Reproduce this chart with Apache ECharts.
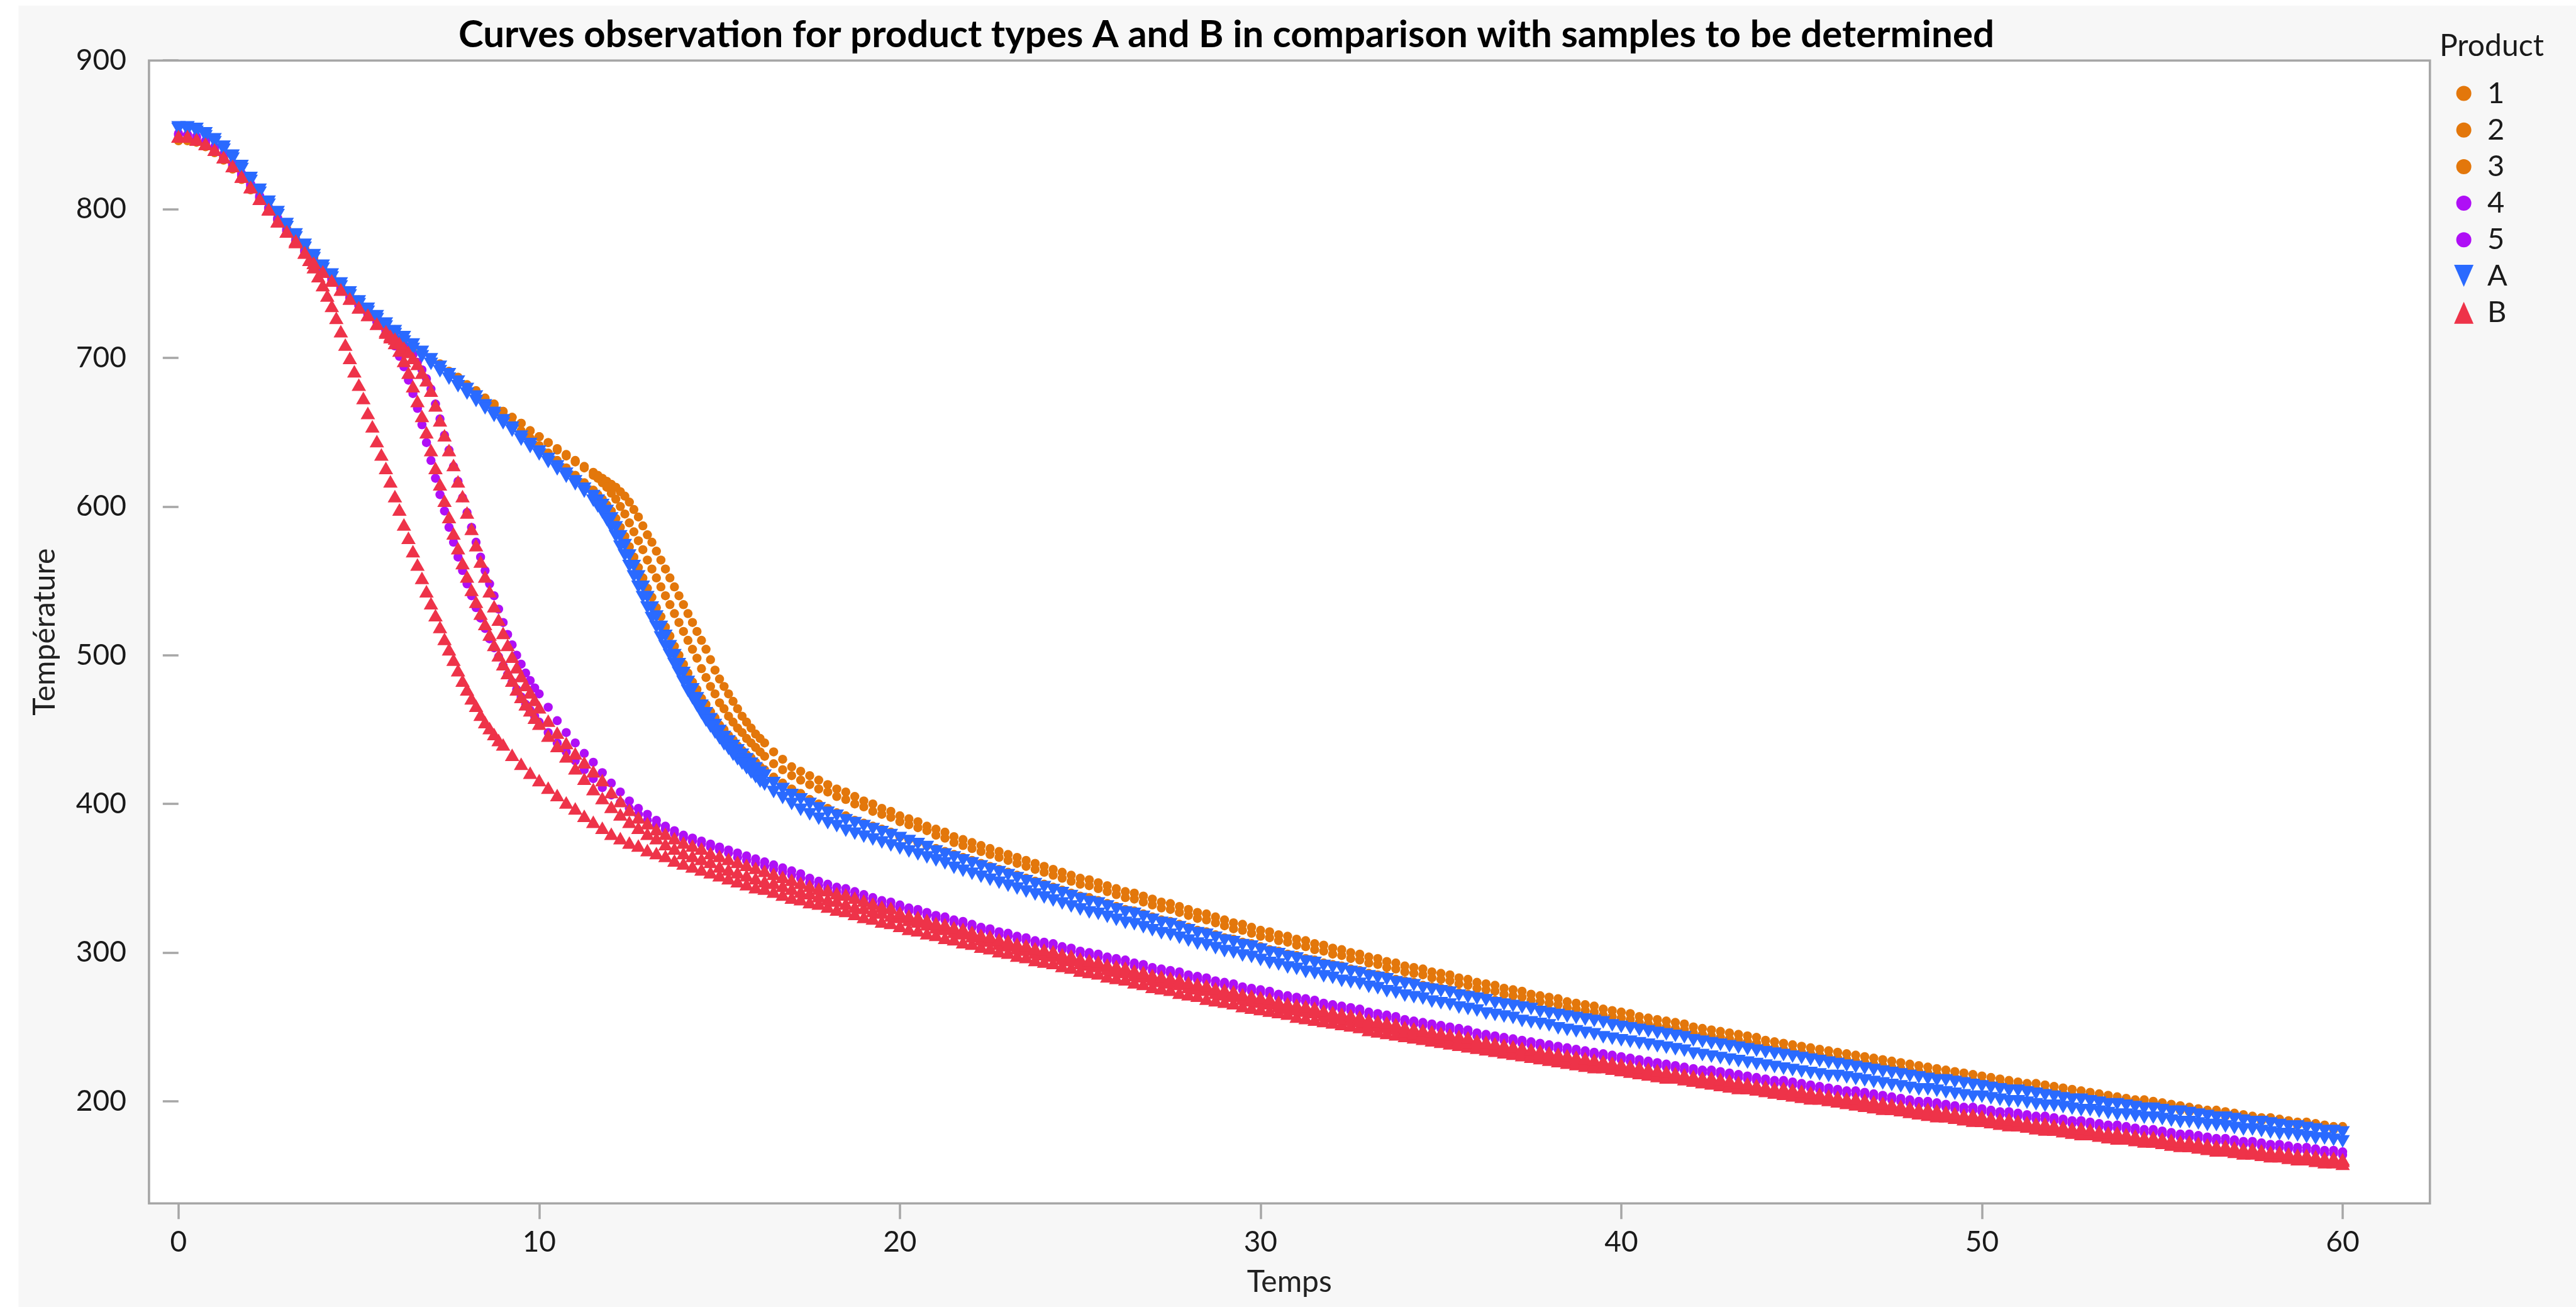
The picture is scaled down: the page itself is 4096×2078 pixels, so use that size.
<!DOCTYPE html>
<html>
<head>
<meta charset="utf-8">
<title>Curves observation</title>
<script src="https://cdn.jsdelivr.net/npm/echarts@6/dist/echarts.min.js"></script>
<style>
  html, body { margin: 0; padding: 0; background: #ffffff; }
  #chart { width: 4096px; height: 2078px; }
</style>
</head>
<body>
<div id="chart"></div>
<script>
// Sampling times (s), shared by every curve
const temps = [
  0,0.25,0.5,0.75, 1,1.25,1.5,1.75, 2,2.25,2.5,2.75, 3,3.25,3.5,3.75, 4,4.25,4.5,4.75,
  5,5.25,5.5,5.75, 6,6.25,6.5,6.75, 7,7.25,7.5,7.75, 8,8.25,8.5,8.75, 9,9.25,9.5,9.75,
  10,10.25,10.5,10.75, 11,11.25,11.5,11.75, 12,12.25,12.5,12.75, 13,13.25,13.5,13.75, 14,14.25,14.5,14.75,
  15,15.25,15.5,15.75, 16,16.25,16.5,16.75, 17,17.25,17.5,17.75, 18,18.25,18.5,18.75, 19,19.25,19.5,19.75,
  20,20.25,20.5,20.75, 21,21.25,21.5,21.75, 22,22.25,22.5,22.75, 23,23.25,23.5,23.75, 24,24.25,24.5,24.75,
  25,25.25,25.5,25.75, 26,26.25,26.5,26.75, 27,27.25,27.5,27.75, 28,28.25,28.5,28.75, 29,29.25,29.5,29.75,
  30,30.25,30.5,30.75, 31,31.25,31.5,31.75, 32,32.25,32.5,32.75, 33,33.25,33.5,33.75, 34,34.25,34.5,34.75,
  35,35.25,35.5,35.75, 36,36.25,36.5,36.75, 37,37.25,37.5,37.75, 38,38.25,38.5,38.75, 39,39.25,39.5,39.75,
  40,40.25,40.5,40.75, 41,41.25,41.5,41.75, 42,42.25,42.5,42.75, 43,43.25,43.5,43.75, 44,44.25,44.5,44.75,
  45,45.25,45.5,45.75, 46,46.25,46.5,46.75, 47,47.25,47.5,47.75, 48,48.25,48.5,48.75, 49,49.25,49.5,49.75,
  50,50.25,50.5,50.75, 51,51.25,51.5,51.75, 52,52.25,52.5,52.75, 53,53.25,53.5,53.75, 54,54.25,54.5,54.75,
  55,55.25,55.5,55.75, 56,56.25,56.5,56.75, 57,57.25,57.5,57.75, 58,58.25,58.5,58.75, 59,59.25,59.5,59.75,
  60
];

// Extra readings taken while the temperature falls fastest
const fastTimesEarly = [3.625,3.875,4.125,4.375,4.625,4.875,5.125,5.375,5.625,5.875,6.125,6.375,
  6.625,6.875,7.125,7.375,7.625,7.875,8.125,8.375,8.625,8.875];
const fastTimesMid = [5.875,6.125,6.375,6.625,6.875,7.125,7.375,7.625,7.875,8.125,8.375,8.625,
  8.875,9.125,9.375,9.625,9.875];
const fastTimesLate = [11.625,11.875,12.125,12.375,12.625,12.875,13.125,13.375,13.625,13.875,
  14.125,14.375,14.625,14.875,15.125,15.375,15.625,15.875,16.125];

// Sample 1 temperature
const product1 = [
  847,847,846,843, 839,834,828,821, 814,807,800,793, 786,779,773,767, 761,755,749,744,
  738,733,728,723, 718,713,708,704, 699,695,690,686, 681,677,672,668, 664,660,656,651,
  647,643,639,635, 631,627,623,619, 615,610,603,593, 581,570,558,546, 534,522,510,497,
  484,474,464,455, 447,441,435,430, 425,422,419,416, 413,410,408,405, 402,400,397,395,
  392,390,388,385, 383,381,378,376, 374,372,370,368, 366,364,362,360, 358,356,354,352,
  350,349,347,345, 343,341,340,338, 336,334,333,331, 329,327,326,324, 322,320,319,317,
  315,314,312,311, 309,308,306,305, 303,302,300,299, 297,296,294,293, 291,290,289,287,
  286,285,283,282, 280,279,278,276, 275,274,272,271, 270,269,267,266, 265,264,262,261,
  260,259,257,256, 255,254,253,252, 250,249,248,247, 246,245,244,243, 241,240,239,238,
  237,236,235,234, 233,232,231,230, 229,228,227,226, 225,224,223,222, 221,220,219,218,
  217,216,215,214, 213,212,212,211, 210,209,208,207, 206,205,204,203, 202,201,201,200,
  199,198,197,196, 195,194,194,193, 192,191,190,189, 189,188,187,186, 186,185,184,183,
  183
];
const product1Fast = [621,617,613,607,598,587,576,564,552,540,528,516,504,490,479,469,459,451,444];

// Sample 2
const product2 = [
  848,847,846,844, 840,835,829,822, 815,808,801,794, 787,780,774,768, 762,756,750,745,
  739,734,729,724, 719,714,709,705, 700,696,691,687, 682,678,673,669, 664,660,656,651,
  647,643,638,634, 630,626,621,616, 609,600,589,577, 564,552,540,528, 516,504,491,479,
  468,459,451,444, 438,432,427,423, 419,416,413,410, 408,405,403,400, 398,395,393,391,
  388,386,384,382, 379,377,374,372, 370,368,366,364, 362,360,358,356, 354,352,350,348,
  346,345,343,341, 339,337,336,334, 332,330,329,327, 325,323,322,320, 318,316,315,313,
  311,310,308,307, 305,304,302,301, 299,298,296,295, 293,292,290,289, 287,286,285,283,
  282,281,279,278, 276,275,274,272, 271,270,268,267, 266,265,263,262, 261,260,258,257,
  256,255,253,252, 251,250,249,248, 246,245,244,243, 242,241,240,239, 237,236,235,234,
  233,232,231,230, 229,228,227,226, 225,224,223,222, 221,220,219,218, 217,216,215,214,
  213,212,212,211, 210,209,208,207, 206,205,204,204, 203,202,201,200, 199,198,198,197,
  196,195,194,193, 193,192,191,190, 190,189,188,187, 187,186,185,184, 184,183,182,181,
  181
];
const product2Fast = [619,613,605,595,583,571,558,546,534,522,510,498,485,474,464,455,448,441,435];

// Sample 3
const product3 = [
  846,846,845,842, 838,833,827,820, 813,806,799,792, 785,778,772,766, 760,754,748,743,
  737,732,727,722, 717,712,707,703, 698,694,689,684, 680,675,670,666, 661,656,651,646,
  641,636,631,626, 621,616,611,605, 597,586,573,559, 545,532,519,506, 494,482,471,462,
  453,446,439,433, 428,423,418,414, 410,407,403,400, 397,394,392,389, 387,385,383,381,
  378,376,374,372, 370,368,366,364, 362,360,358,356, 354,352,350,348, 346,344,342,340,
  338,337,335,333, 331,329,328,326, 324,322,321,319, 317,315,314,312, 310,309,307,306,
  304,302,301,299, 298,296,295,293, 292,291,289,288, 286,285,284,282, 281,280,278,277,
  276,275,273,272, 271,270,268,267, 266,265,264,262, 261,260,259,258, 257,256,255,253,
  252,251,250,249, 248,247,246,245, 243,242,241,240, 239,238,237,236, 235,234,233,232,
  231,230,229,228, 227,226,225,224, 223,222,221,220, 220,219,218,217, 216,215,214,213,
  212,211,211,210, 209,208,207,206, 206,205,204,203, 202,201,201,200, 199,198,198,197,
  196,195,195,194, 193,192,192,191, 190,189,189,188, 187,186,186,185, 184,183,183,182,
  181
];
const product3Fast = [608,601,592,580,566,552,539,526,513,500,488,477,467,458,450,443,436,431,425];

// Sample 4
const product4 = [
  850,850,848,845, 841,836,830,823, 816,808,800,793, 785,778,771,764, 758,752,746,740,
  735,729,724,718, 708,694,676,655, 631,608,586,566, 548,532,518,505, 493,482,472,463,
  455,448,441,435, 429,423,417,411, 406,401,397,393, 389,386,383,380, 377,375,373,371,
  369,367,364,362, 360,358,356,354, 352,350,347,345, 343,341,340,338, 336,334,332,331,
  330,328,327,325, 323,322,320,319, 317,315,314,312, 311,309,308,306, 305,304,302,301,
  299,298,297,295, 294,293,291,290, 288,287,286,285, 283,282,281,279, 278,277,275,274,
  273,272,270,269, 268,267,266,264, 263,262,261,260, 258,257,256,255, 253,252,251,250,
  249,248,247,246, 244,243,242,241, 240,239,238,237, 236,235,234,233, 232,231,230,229,
  228,227,226,225, 224,223,222,221, 220,219,219,218, 217,216,215,214, 213,212,212,211,
  210,209,208,207, 206,205,205,204, 203,202,201,200, 199,198,198,197, 196,195,194,194,
  193,192,191,191, 190,189,188,188, 187,186,185,185, 184,183,182,182, 181,180,179,179,
  178,177,176,176, 175,174,173,173, 172,171,171,170, 169,169,168,167, 167,166,165,165,
  164
];
const product4Fast = [713,701,685,666,643,619,597,576,557,540,525,511,499,487,477,467,459];

// Sample 5
const product5 = [
  851,850,849,846, 842,837,831,824, 817,809,801,794, 786,779,772,765, 759,753,747,741,
  736,730,725,719, 714,709,702,692, 679,659,638,617, 596,576,557,540, 522,507,494,483,
  474,465,456,448, 441,434,428,421, 414,408,402,397, 393,389,385,382, 379,377,375,373,
  371,369,367,365, 363,361,359,357, 355,353,350,348, 346,344,343,341, 339,337,335,334,
  332,330,329,327, 325,324,322,321, 319,317,316,314, 313,311,310,308, 307,306,304,303,
  301,300,299,297, 296,295,293,292, 290,289,288,287, 285,284,283,281, 280,279,277,276,
  275,274,272,271, 270,269,268,266, 265,264,263,262, 260,259,258,257, 255,254,253,252,
  251,250,249,248, 246,245,244,243, 242,241,240,239, 238,237,236,235, 234,233,232,231,
  230,229,228,227, 226,225,224,223, 222,221,221,220, 219,218,217,216, 215,214,214,213,
  212,211,210,209, 208,207,207,206, 205,204,203,202, 201,200,200,199, 198,197,196,196,
  195,194,193,193, 192,191,190,190, 189,188,187,187, 186,185,184,184, 183,182,181,181,
  180,179,178,178, 177,176,175,175, 174,173,173,172, 171,171,170,169, 169,168,167,167,
  166
];
const product5Fast = [716,712,706,697,686,669,648,627,606,586,566,548,531,514,500,488,478];

// Reference type A, two runs
const typeA_run1 = [
  855,855,854,851, 847,842,836,829, 821,813,805,798, 790,783,776,769, 762,756,750,744,
  738,733,728,723, 718,714,709,704, 699,694,689,684, 679,674,668,663, 658,653,647,642,
  637,632,627,622, 617,612,607,601, 592,580,567,553, 539,526,513,500, 488,477,466,457,
  449,442,436,430, 424,419,414,410, 406,403,400,397, 394,392,389,387, 385,383,381,379,
  377,375,373,371, 368,366,364,362, 360,358,356,354, 352,350,348,346, 344,342,340,338,
  336,334,333,331, 329,327,326,324, 322,320,319,317, 315,313,312,310, 308,307,305,304,
  302,300,299,297, 296,294,293,291, 290,289,287,286, 284,283,282,280, 279,278,276,275,
  274,273,271,270, 269,268,266,265, 264,263,262,260, 259,258,257,256, 255,254,253,251,
  250,249,248,247, 246,245,244,243, 241,240,239,238, 237,236,235,234, 233,232,231,230,
  229,228,227,226, 225,224,223,222, 221,220,219,218, 217,216,215,214, 214,213,212,211,
  210,209,208,207, 207,206,205,204, 203,202,201,201, 200,199,198,198, 197,196,195,195,
  194,193,193,192, 191,190,189,189, 188,187,186,186, 185,184,183,183, 182,181,180,180,
  179
];
const typeA_run1Fast = [604,597,586,574,560,546,532,519,506,494,482,471,461,453,445,439,433,427,421];
const typeA_run2 = [
  854,853,852,849, 845,840,834,827, 819,811,803,796, 788,781,774,767, 760,754,748,742,
  736,731,726,721, 716,711,706,701, 696,691,686,681, 676,671,666,661, 656,651,645,640,
  635,630,625,620, 615,610,604,596, 586,573,560,546, 532,519,506,494, 482,471,461,452,
  444,437,430,424, 418,413,408,404, 400,396,393,390, 387,385,382,380, 378,376,374,372,
  370,368,366,364, 362,360,357,355, 353,351,349,347, 345,343,341,339, 337,335,333,331,
  329,327,326,324, 322,320,319,317, 315,313,312,310, 308,306,305,303, 301,300,298,297,
  295,293,292,290, 289,287,286,284, 283,281,280,279, 277,276,274,273, 271,270,269,267,
  266,265,263,262, 261,259,258,257, 256,254,253,252, 251,249,248,247, 246,245,243,242,
  241,240,239,238, 237,236,235,234, 232,231,230,229, 228,227,226,225, 224,223,222,221,
  220,219,218,217, 217,216,215,214, 213,212,211,210, 209,208,208,207, 206,205,204,203,
  203,202,201,200, 200,199,198,197, 197,196,195,194, 194,193,192,191, 191,190,189,189,
  188,187,186,186, 185,184,184,183, 182,181,181,180, 179,178,178,177, 176,175,175,174,
  173
];
const typeA_run2Fast = [600,591,580,567,553,539,525,512,500,488,476,466,456,448,440,433,427,421,415];

// Reference type B, three runs
const typeB_run1 = [
  849,849,847,844, 840,835,829,822, 815,807,800,792, 785,779,771,761, 749,735,718,700,
  682,663,644,626, 607,588,570,552, 535,519,504,490, 477,466,455,447, 440,433,427,421,
  416,411,406,401, 397,392,388,384, 380,377,374,372, 369,367,365,362, 360,358,356,354,
  352,350,348,346, 344,343,341,339, 337,336,334,333, 331,329,328,326, 324,323,321,320,
  318,316,315,313, 312,310,309,307, 306,304,303,301, 300,298,297,295, 294,293,291,290,
  288,287,286,284, 283,282,280,279, 277,276,275,273, 272,271,269,268, 267,266,264,263,
  262,261,260,259, 257,256,255,254, 253,252,251,250, 248,247,246,245, 244,243,242,241,
  240,239,238,237, 236,235,234,233, 232,231,230,229, 228,227,226,225, 224,223,223,222,
  221,220,219,218, 217,216,216,215, 214,213,212,211, 210,209,209,208, 207,206,205,204,
  203,202,202,201, 200,199,198,197, 196,195,195,194, 193,192,191,190, 190,189,188,187,
  187,186,185,184, 184,183,182,181, 181,180,179,178, 178,177,176,175, 175,174,174,173,
  172,171,171,170, 170,169,168,168, 167,166,166,165, 165,164,163,163, 162,161,161,160,
  160
];
const typeB_run1Fast = [766,755,742,727,709,691,673,654,635,617,598,579,561,543,527,511,497,483,471,460,451,443];
const typeB_run2 = [
  849,849,847,844, 840,835,829,822, 815,807,800,792, 785,778,771,764, 758,752,746,740,
  734,729,723,717, 710,698,681,661, 638,615,593,572, 553,536,521,507, 494,483,472,463,
  454,446,439,432, 424,417,410,404, 398,393,388,384, 380,377,373,370, 367,365,363,361,
  358,356,354,352, 350,348,347,345, 343,341,340,338, 336,335,333,331, 330,328,327,325,
  324,322,321,319, 317,316,314,313, 311,309,308,306, 305,303,302,300, 299,298,296,295,
  293,292,291,289, 288,287,285,284, 282,281,280,279, 277,276,275,273, 272,271,269,268,
  267,266,264,263, 262,261,260,258, 257,256,255,254, 252,251,250,249, 247,246,245,244,
  243,242,241,240, 238,237,236,235, 234,233,232,231, 230,229,228,227, 226,225,224,223,
  222,221,220,219, 218,217,216,215, 214,213,213,212, 211,210,209,208, 207,206,206,205,
  204,203,202,201, 200,199,199,198, 197,196,195,194, 193,192,192,191, 190,189,188,188,
  187,186,185,185, 184,183,182,182, 181,180,179,179, 178,177,176,176, 175,174,173,173,
  172,171,170,170, 169,168,167,167, 166,165,165,164, 163,163,162,161, 161,160,159,159,
  158
];
const typeB_run2Fast = [714,705,690,671,650,626,604,582,562,544,528,514,500,488,477,467,458];
const typeB_run3 = [
  849,849,847,844, 840,835,829,822, 815,807,800,792, 785,778,771,764, 758,752,746,740,
  734,729,723,718, 713,707,700,690, 678,658,638,617, 596,574,553,533, 515,499,486,475,
  465,456,448,441, 434,428,422,416, 408,402,396,391, 387,383,380,377, 374,372,370,367,
  365,363,361,359, 357,355,353,351, 349,347,345,343, 342,340,339,337, 335,333,331,330,
  327,325,324,322, 320,319,317,316, 314,312,311,309, 308,306,305,303, 302,301,299,298,
  296,295,294,292, 291,290,288,287, 285,284,283,282, 280,279,278,276, 275,274,272,271,
  270,269,267,266, 265,264,263,261, 260,259,258,257, 255,254,253,252, 250,249,248,247,
  246,245,244,243, 241,240,239,238, 237,236,235,234, 233,232,231,230, 229,228,227,226,
  225,224,223,222, 221,220,219,218, 217,216,216,215, 214,213,212,211, 210,209,209,208,
  207,206,205,204, 203,202,202,201, 200,199,198,197, 196,195,195,194, 193,192,191,191,
  190,189,188,188, 187,186,185,185, 184,183,182,182, 181,180,179,179, 178,177,176,176,
  175,174,173,173, 172,171,170,170, 169,168,168,167, 166,166,165,164, 164,163,162,162,
  161
];
const typeB_run3Fast = [715,710,704,696,685,668,648,628,607,585,563,543,524,507,492,480,470];

// Axis ticks
const timeTicks = [0, 10, 20, 30, 40, 50, 60];
const tempTicks = [200, 300, 400, 500, 600, 700, 800, 900];

const ORANGE = '#E3770B';
const PURPLE = '#AF0FF6';
const BLUE = '#2A6AFF';
const RED = '#EE3349';
const FONT = 'Lato, "Noto Sans", sans-serif';

function points(values, times) {
  const ts = times || temps;
  return ts.map((t, i) => [t, values[i]]);
}

const chart = echarts.init(document.getElementById('chart'), null, { renderer: 'canvas' });

const circleSeries = (name, data, color) => ({
  name, type: 'scatter', data,
  symbol: 'circle', symbolSize: 14.5,
  itemStyle: { color, opacity: 1 },
  emphasis: { disabled: true }
});

chart.setOption({
  animation: false,
  backgroundColor: '#FFFFFF',
  graphic: [{
    type: 'rect', z: -10, silent: true,
    shape: { x: 29.4, y: 8.9, width: 4096 - 29.4, height: 2078 - 8.9 },
    style: { fill: '#F7F7F7' }
  }],
  title: [{
    text: 'Curves observation for product types A and B in comparison with samples to be determined',
    left: 1950, top: 26, padding: 0,
    textAlign: 'center', textVerticalAlign: 'top',
    textStyle: { fontFamily: FONT, fontWeight: 'bold', fontSize: 60, lineHeight: 60, color: '#000000' }
  }, {
    text: 'Product',
    left: 3879, top: 50, padding: 0,
    textAlign: 'left', textVerticalAlign: 'top',
    textStyle: { fontFamily: FONT, fontWeight: 'normal', fontSize: 48, lineHeight: 48, color: '#1A1A1A' }
  }],
  legend: [{
    data: ['1', '2', '3', '4', '5'],
    orient: 'vertical', left: 3905.6, top: 124.5, padding: 0,
    itemWidth: 24, itemHeight: 24, itemGap: 10.2,
    selectedMode: false,
    textStyle: { fontFamily: FONT, fontSize: 47, lineHeight: 48, color: '#1A1A1A', padding: [0, 0, 0, 20.4] }
  }, {
    data: [{ name: 'A', icon: 'path://M0,0L31,0L15.5,35Z' }, { name: 'B', icon: 'triangle' }],
    orient: 'vertical', left: 3902.1, top: 414.4, padding: 0,
    itemWidth: 31, itemHeight: 35, itemGap: 10.8,
    selectedMode: false,
    textStyle: { fontFamily: FONT, fontSize: 47, lineHeight: 48, color: '#1A1A1A', padding: [0, 0, 0, 16.9] }
  }],
  grid: {
    left: 236.9, top: 96.2, right: 232.3, bottom: 164.7,
    show: true, backgroundColor: '#FFFFFF', borderColor: '#A6A6A6', borderWidth: 3.6,
    containLabel: false
  },
  xAxis: {
    type: 'value', min: -0.818, max: 62.42,
    name: 'Temps', nameLocation: 'middle', nameGap: 101.4,
    nameTextStyle: { fontFamily: FONT, fontSize: 48, lineHeight: 48, color: '#222222' },
    axisLine: { show: false },
    splitLine: { show: false },
    axisTick: { show: true, inside: false, length: 25, customValues: timeTicks,
                lineStyle: { color: '#A6A6A6', width: 3.5 } },
    axisLabel: { margin: 39, fontFamily: FONT, fontSize: 46, lineHeight: 46, color: '#1A1A1A',
                 customValues: timeTicks }
  },
  yAxis: {
    type: 'value', min: 131.3, max: 900,
    name: 'Température', nameLocation: 'middle', nameGap: 141.6, nameRotate: 90,
    nameTextStyle: { fontFamily: FONT, fontSize: 48, lineHeight: 48, color: '#222222' },
    axisLine: { show: false },
    splitLine: { show: false },
    axisTick: { show: true, inside: false, length: 25, customValues: tempTicks,
                lineStyle: { color: '#A6A6A6', width: 3.5 } },
    axisLabel: { margin: 36, fontFamily: FONT, fontSize: 46, color: '#1A1A1A',
                 customValues: tempTicks }
  },
  series: [
    circleSeries('1', points(product1).concat(points(product1Fast, fastTimesLate)), ORANGE),
    circleSeries('2', points(product2).concat(points(product2Fast, fastTimesLate)), ORANGE),
    circleSeries('3', points(product3).concat(points(product3Fast, fastTimesLate)), ORANGE),
    circleSeries('4', points(product4).concat(points(product4Fast, fastTimesMid)), PURPLE),
    circleSeries('5', points(product5).concat(points(product5Fast, fastTimesMid)), PURPLE),
    {
      name: 'A', type: 'scatter',
      data: points(typeA_run1).concat(points(typeA_run1Fast, fastTimesLate),
                                     points(typeA_run2), points(typeA_run2Fast, fastTimesLate)),
      symbol: 'triangle', symbolRotate: 180, symbolSize: [23, 20],
      itemStyle: { color: BLUE, opacity: 1 },
      emphasis: { disabled: true }
    },
    {
      name: 'B', type: 'scatter',
      data: points(typeB_run1).concat(points(typeB_run1Fast, fastTimesEarly),
                                     points(typeB_run2), points(typeB_run2Fast, fastTimesMid),
                                     points(typeB_run3), points(typeB_run3Fast, fastTimesMid)),
      symbol: 'triangle', symbolSize: [23, 20],
      itemStyle: { color: RED, opacity: 1 },
      emphasis: { disabled: true }
    }
  ]
});
</script>
</body>
</html>
